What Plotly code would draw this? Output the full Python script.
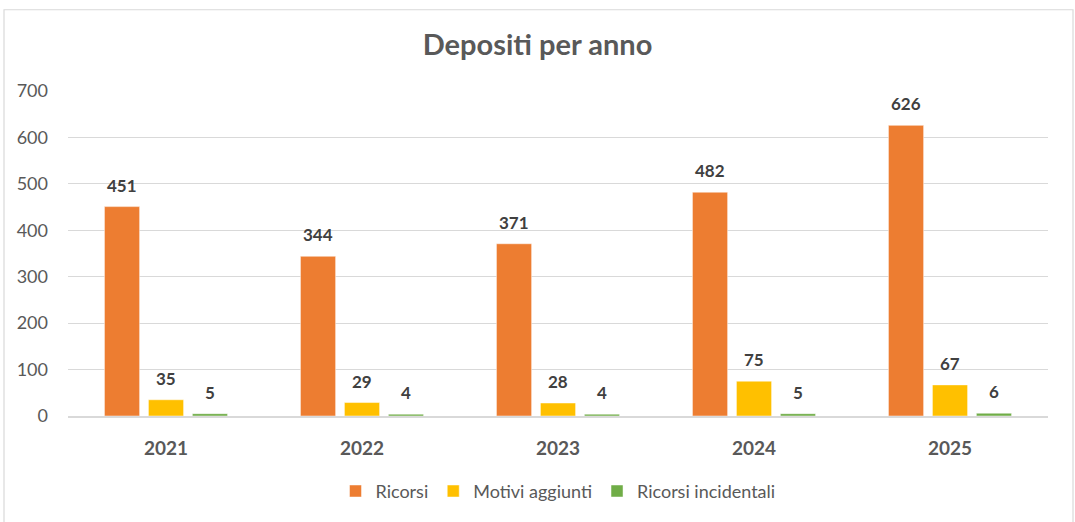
import plotly.graph_objects as go

anni = ["2021", "2022", "2023", "2024", "2025"]
ricorsi = [451, 344, 371, 482, 626]
motivi_aggiunti = [35, 29, 28, 75, 67]
ricorsi_incidentali = [5, 4, 4, 5, 6]

serie = [
    ("Ricorsi", ricorsi, "#ED7D31"),
    ("Motivi aggiunti", motivi_aggiunti, "#FFC000"),
    ("Ricorsi incidentali", ricorsi_incidentali, "#70AD47"),
]

FONT = "Lato, 'Open Sans', sans-serif"

fig = go.Figure()
for nome, vals, col in serie:
    fig.add_trace(go.Bar(
        name=nome, x=anni, y=vals,
        marker=dict(color=col, line=dict(color="rgba(255,255,255,0.6)", width=0.8)),
    ))

offsets = [-44, 0, 44]
annotations = []
for (nome, vals, col), dx in zip(serie, offsets):
    for i, v in enumerate(vals):
        annotations.append(dict(
            x=i, y=v, xref="x", yref="y", text=f"<b>{v}</b>", showarrow=False,
            xshift=dx, yshift=9, yanchor="bottom",
            font=dict(family=FONT, size=17, color="#404040"),
        ))

fig.update_layout(
    width=1075, height=522,
    margin=dict(l=68, r=27, t=91, b=103),
    paper_bgcolor="white", plot_bgcolor="white",
    barmode="group", bargap=0.327, bargroupgap=0.2,
    title=dict(text="<b>Depositi per anno</b>", x=0.5, xanchor="center",
               y=1 - 45 / 522, yanchor="middle",
               font=dict(family=FONT, size=29, color="#595959")),
    font=dict(family=FONT, color="#595959"),
    xaxis=dict(type="category", range=[-0.5, len(anni) - 0.5], showgrid=False,
               showline=True, linecolor="#D9D9D9", automargin=False,
               linewidth=1.5, tickprefix="<b>", ticksuffix="</b>",
               tickfont=dict(family=FONT, size=19, color="#595959"),
               ticks="", ticklabelstandoff=14),
    yaxis=dict(range=[0, 700], dtick=100, showgrid=True, gridcolor="#D9D9D9",
               gridwidth=1.2, zeroline=False, showline=False, automargin=False,
               tickfont=dict(family=FONT, size=18, color="#595959"),
               ticks="", ticklabelstandoff=19),
    legend=dict(orientation="h", x=0.5, xanchor="center",
                y=(418 - 494) / 328, yanchor="middle",
                bgcolor="rgba(0,0,0,0)",
                font=dict(family=FONT, size=18, color="#595959"),
                traceorder="normal"),
    annotations=annotations,
    shapes=[dict(type="rect", xref="paper", yref="paper",
                 x0=(4 - 68) / 980, x1=(1073 - 68) / 980,
                 y0=(418 - 540) / 328, y1=(418 - 8) / 328,
                 line=dict(color="#D9D9D9", width=1.2), layer="below")],
)

fig.write_html("out.html", config={"displayModeBar": False},
               post_script="document.body.style.margin='0';document.body.style.overflow='hidden';")
